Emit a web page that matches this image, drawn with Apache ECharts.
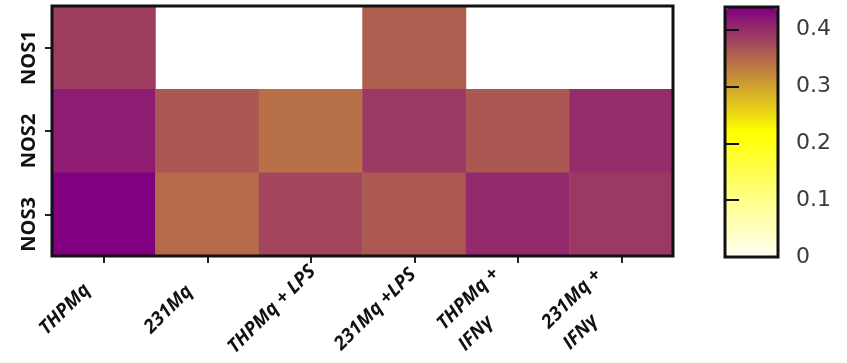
<!DOCTYPE html>
<html>
<head>
<meta charset="utf-8">
<script src="https://cdn.jsdelivr.net/npm/echarts@6/dist/echarts.min.js"></script>
<style>
  html, body { margin: 0; padding: 0; background: #ffffff; }
  #chart { width: 847px; height: 363px; }
</style>
</head>
<body>
<div id="chart"></div>
<script>
// Macrophage conditions (columns) and NOS isoforms (rows)
const treatments = ['THPMq', '231Mq', 'THPMq + LPS', '231Mq +LPS', 'THPMq +\nIFNγ', '231Mq +\nIFNγ'];
const genes = ['NOS1', 'NOS2', 'NOS3'];

// Relative expression per isoform; null = not detected (left blank)
const nos1 = [0.387, null, null, 0.358, null, null];
const nos2 = [0.416, 0.365, 0.343, 0.392, 0.365, 0.402];
const nos3 = [0.440, 0.348, 0.380, 0.363, 0.405, 0.392];

// Colour scale range and its tick labels
const scaleMin = 0;
const scaleMax = 0.44;
const scaleTicks = [0, 0.1, 0.2, 0.3, 0.4];

const rows = [nos1, nos2, nos3];
const cells = [];
rows.forEach((row, yi) => {
  row.forEach((v, xi) => {
    if (v !== null) cells.push([xi, yi, v]);
  });
});

const chart = echarts.init(document.getElementById('chart'), null, { renderer: 'canvas' });

const labelFont = 'Open Sans, Liberation Sans, sans-serif';

chart.setOption({
  animation: false,
  backgroundColor: '#ffffff',
  grid: [
    { left: 52, top: 6, width: 621, height: 250, show: true, z: 5, outerBoundsMode: 'none',
      containLabel: false,
      borderColor: '#111111', borderWidth: 3, backgroundColor: 'transparent' },
    { left: 725, top: 7, width: 53, height: 250, show: true, z: 5, outerBoundsMode: 'none',
      containLabel: false,
      borderColor: '#111111', borderWidth: 3, backgroundColor: 'transparent' }
  ],
  xAxis: [
    {
      type: 'category', gridIndex: 0, data: treatments,
      axisLine: { show: false },
      axisTick: { show: true, alignWithLabel: true, length: 7, lineStyle: { color: '#222', width: 2 } },
      splitLine: { show: false },
      axisLabel: {
        interval: 0, rotate: 45, align: 'center', verticalAlign: 'middle',
        margin: 30, padding: [0, 88, 22, 0],
        fontFamily: labelFont, fontWeight: 'bold', fontStyle: 'italic', fontSize: 19,
        color: '#111', lineHeight: 30,
        formatter: (v) => v.split('\n').map((s) => '{t|' + s + '}').join('\n'),
        rich: {
          t: { align: 'left', fontFamily: labelFont, fontWeight: 'bold', fontStyle: 'italic',
               fontSize: 19, color: '#111', lineHeight: 30 }
        }
      }
    },
    { type: 'value', gridIndex: 1, min: 0, max: 1, show: false }
  ],
  yAxis: [
    {
      type: 'category', gridIndex: 0, data: genes, inverse: true,
      axisLine: { show: false },
      axisTick: { show: true, alignWithLabel: true, length: 7, lineStyle: { color: '#222', width: 2 } },
      splitLine: { show: false },
      axisLabel: {
        rotate: 90, margin: 13, padding: [0, 20, 0, 0],
        fontFamily: labelFont, fontWeight: 'bold', fontSize: 20, color: '#111'
      }
    },
    {
      // colour-bar scale on the right edge; ticks point into the bar
      type: 'value', gridIndex: 1, min: scaleMin, max: scaleMax, position: 'right', z: 10,
      offset: -7,
      axisLine: { show: false },
      splitLine: { show: false },
      axisTick: { show: true, length: 7, customValues: scaleTicks,
                  lineStyle: { color: '#111', width: 2 } },
      axisLabel: { customValues: scaleTicks, margin: 25, fontFamily: 'DejaVu Sans, Liberation Sans, sans-serif',
                   fontSize: 22, color: '#3a3a3a', formatter: (v) => String(v) }
    },
    {
      // matching ticks on the left edge of the colour bar
      type: 'value', gridIndex: 1, min: scaleMin, max: scaleMax, position: 'left', z: 10,
      offset: -7,
      axisLine: { show: false },
      splitLine: { show: false },
      axisTick: { show: true, length: 7, customValues: scaleTicks,
                  lineStyle: { color: '#111', width: 2 } },
      axisLabel: { show: false }
    }
  ],
  visualMap: {
    type: 'continuous', seriesIndex: 0, min: scaleMin, max: scaleMax, z: 1,
    orient: 'vertical', left: 726, top: 8, itemWidth: 51, itemHeight: 248,
    padding: 0, calculable: false, hoverLink: false, text: null,
    inRange: { color: ['#fffff4', '#ffff00', '#800080'] }
  },
  series: [
    {
      type: 'heatmap', xAxisIndex: 0, yAxisIndex: 0, data: cells,
      itemStyle: { borderWidth: 0 },
      emphasis: { disabled: true },
      label: { show: false }
    }
  ]
});
</script>
</body>
</html>
